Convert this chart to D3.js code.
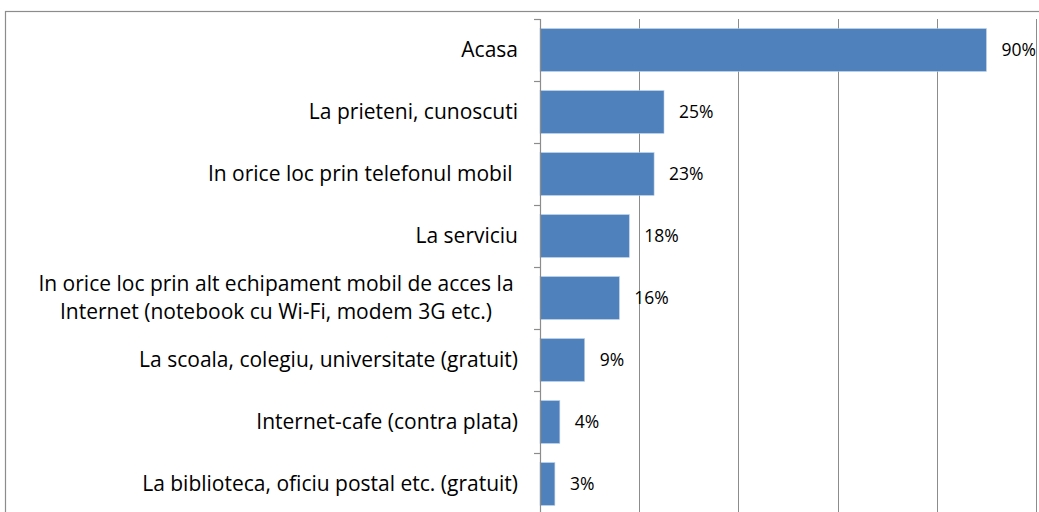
<!DOCTYPE html>
<html><head><meta charset="utf-8">
<script src="https://cdn.jsdelivr.net/npm/d3@7"></script>
<style>body{margin:0;background:#fff}svg{display:block}</style>
</head><body>
<script>
const categories = [
  ["Acasa"],
  ["La prieteni, cunoscuti"],
  ["In orice loc prin telefonul mobil "],
  ["La serviciu"],
  ["In orice loc prin alt echipament mobil de acces la", "Internet (notebook cu Wi-Fi, modem 3G etc.)"],
  ["La scoala, colegiu, universitate (gratuit)"],
  ["Internet-cafe (contra plata)"],
  ["La biblioteca, oficiu postal etc. (gratuit)"]
];
const values = [90, 25, 23, 18, 16, 9, 4, 3];
const valueLabels = ["90%", "25%", "23%", "18%", "16%", "9%", "4%", "3%"];
const xTicks = [0, 20, 40, 60, 80, 100];

const W = 1039, H = 512;
const svg = d3.select("body").append("svg").attr("width", W).attr("height", H);
const font = "'Open Sans', sans-serif";

// outer border
svg.append("rect").attr("x", 5.5).attr("y", 11.5).attr("width", 1040).attr("height", 520)
  .attr("fill", "none").attr("stroke", "#8c8c8c").attr("stroke-width", 1.2);

const x0 = 540, x1 = 1036, y0 = 19, y1 = 515;
const x = d3.scaleLinear().domain([0, 100]).range([x0, x1]);
const idx = categories.map((d, i) => i);
const y = d3.scaleBand().domain(idx).range([y0, y1]).paddingInner(0.31).paddingOuter(0.155);

// gridlines
svg.append("g").selectAll("line").data(xTicks.slice(1)).join("line")
  .attr("x1", d => Math.round(x(d)) + 0.5).attr("x2", d => Math.round(x(d)) + 0.5)
  .attr("y1", y0).attr("y2", y1).attr("stroke", "#8c8c8c").attr("stroke-width", 1);

// bars
svg.append("g").selectAll("rect").data(values).join("rect")
  .attr("x", x(0)).attr("y", (d, i) => y(i))
  .attr("width", d => x(d) - x(0)).attr("height", y.bandwidth())
  .attr("fill", "#4f81bd").attr("stroke", "#b9cde5").attr("stroke-width", 0.6);

// category axis line and ticks
const step = (y1 - y0) / categories.length;
const g = svg.append("g");
g.append("line").attr("x1", x0 + 0.5).attr("x2", x0 + 0.5).attr("y1", y0).attr("y2", y1)
  .attr("stroke", "#8c8c8c").attr("stroke-width", 1.2);
g.selectAll("line.t").data(d3.range(categories.length + 1)).join("line").attr("class", "t")
  .attr("x1", x0 - 6).attr("x2", x0 + 0.5)
  .attr("y1", i => y0 + i * step + 0.5).attr("y2", i => y0 + i * step + 0.5)
  .attr("stroke", "#8c8c8c").attr("stroke-width", 1.2);

// category labels
const lab = svg.append("g").attr("font-family", font).attr("font-size", 21).attr("fill", "#000");
categories.forEach((lines, i) => {
  const cy = y(i) + y.bandwidth() / 2;
  if (lines.length === 1) {
    lab.append("text").attr("x", 518).attr("y", cy).attr("dy", "0.35em")
      .attr("text-anchor", "end").attr("xml:space", "preserve").text(lines[0]);
  } else {
    const t = lab.append("text").attr("text-anchor", "middle");
    lines.forEach((l, k) => {
      t.append("tspan").attr("x", 276).attr("y", cy + (k - 0.5) * 28).attr("dy", "0.35em").text(l);
    });
  }
});

// value labels
svg.append("g").attr("font-family", font).attr("font-size", 17.5).attr("fill", "#000")
  .selectAll("text").data(values).join("text")
  .attr("x", d => x(d) + 15).attr("y", (d, i) => y(i) + y.bandwidth() / 2).attr("dy", "0.35em")
  .text((d, i) => valueLabels[i]);
</script>
</body></html>
